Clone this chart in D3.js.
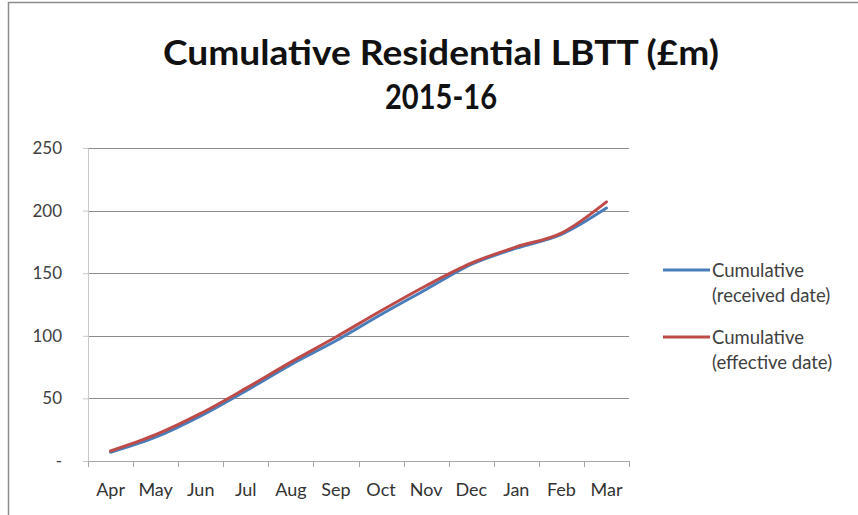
<!DOCTYPE html>
<html>
<head>
<meta charset="utf-8">
<script src="https://cdn.jsdelivr.net/npm/d3@7"></script>
<style>
  body { margin: 0; background: #fff; }
  text { font-family: Lato, "Open Sans", "Liberation Sans", sans-serif; }
</style>
</head>
<body>
<script>
var months = ["Apr", "May", "Jun", "Jul", "Aug", "Sep", "Oct", "Nov", "Dec", "Jan", "Feb", "Mar"];
var receivedDate = [7, 19, 36, 56, 77, 96, 117, 137, 157, 170, 181, 202];
var effectiveDate = [8, 21, 38, 58, 79, 99, 120, 140, 158, 171, 182, 207];
var yTicks = [0, 50, 100, 150, 200, 250];
var seriesNames = [["Cumulative", "(received date)"], ["Cumulative", "(effective date)"]];
var colors = ["#4a7ebb", "#be4b48"];

var margin = {top: 148, right: 229, bottom: 54, left: 88};
var width = 858 - margin.left - margin.right;
var height = 515 - margin.top - margin.bottom;

var root = d3.select("body").append("svg")
    .attr("width", 858)
    .attr("height", 515);

// outer frame
root.append("rect")
    .attr("x", 8.5).attr("y", 2.5)
    .attr("width", 1000).attr("height", 1000)
    .attr("fill", "none")
    .attr("stroke", "#8c8c8c")
    .attr("stroke-width", 1.5);

root.append("text")
    .attr("x", 441).attr("y", 65)
    .attr("text-anchor", "middle")
    .attr("font-size", 35).attr("font-weight", "bold")
    .attr("fill", "#111")
    .attr("textLength", 556).attr("lengthAdjust", "spacingAndGlyphs")
    .text("Cumulative Residential LBTT (£m)");
root.append("text")
    .attr("x", 441).attr("y", 109)
    .attr("text-anchor", "middle")
    .attr("font-size", 35).attr("font-weight", "bold")
    .attr("fill", "#111")
    .attr("textLength", 112).attr("lengthAdjust", "spacingAndGlyphs")
    .text("2015-16");

var svg = root.append("g")
    .attr("transform", "translate(" + margin.left + "," + margin.top + ")");

var x = d3.scaleBand().domain(months).range([0, width]);
var y = d3.scaleLinear().domain([0, 250]).range([height, 0]);

// gridlines
svg.append("g").selectAll("line")
  .data(yTicks.slice(1))
  .enter().append("line")
    .attr("x1", 0).attr("x2", width)
    .attr("y1", function(d) { return Math.round(y(d)) + 0.5; })
    .attr("y2", function(d) { return Math.round(y(d)) + 0.5; })
    .attr("stroke", "#8c8c8c");

var yAxis = svg.append("g")
    .call(d3.axisLeft(y).tickValues(yTicks).tickSize(5).tickPadding(21)
      .tickFormat(function(d) { return d === 0 ? "-" : d; }));
yAxis.select(".domain").attr("stroke", "#c8c8c8");
yAxis.selectAll(".tick line").attr("stroke", "#c8c8c8");
yAxis.selectAll("text").attr("font-size", 17).attr("fill", "#404040")
    .style("font-family", "Lato, 'Open Sans', sans-serif");

var xAxis = svg.append("g")
    .attr("transform", "translate(0," + height + ")")
    .call(d3.axisBottom(x).tickSize(0).tickPadding(22));
xAxis.select(".domain").attr("stroke", "#a6a6a6");
xAxis.selectAll("text").attr("font-size", 18).attr("fill", "#333")
    .style("font-family", "Lato, 'Open Sans', sans-serif");

// category boundary ticks
svg.append("g").selectAll("line")
  .data(months.concat(["end"]))
  .enter().append("line")
    .attr("x1", function(d, i) { return Math.round(i * x.step()) + 0.5; })
    .attr("x2", function(d, i) { return Math.round(i * x.step()) + 0.5; })
    .attr("y1", height).attr("y2", height + 6)
    .attr("stroke", "#a6a6a6");

var line = d3.line()
    .x(function(d, i) { return x(months[i]) + x.bandwidth() / 2; })
    .y(function(d) { return y(d); })
    .curve(d3.curveMonotoneX);

[receivedDate, effectiveDate].forEach(function(s, k) {
  svg.append("path")
      .datum(s)
      .attr("fill", "none")
      .attr("stroke", colors[k])
      .attr("stroke-width", 3)
      .attr("stroke-linejoin", "round")
      .attr("stroke-linecap", "round")
      .attr("d", line);
});

// legend
var legend = root.append("g");
seriesNames.forEach(function(n, k) {
  var ly = 270 + k * 67;
  legend.append("line")
      .attr("x1", 663).attr("x2", 710)
      .attr("y1", ly).attr("y2", ly)
      .attr("stroke", colors[k]).attr("stroke-width", 3);
  legend.append("text")
      .attr("x", 712).attr("y", ly + 7)
      .attr("font-size", 18.5).attr("fill", "#404040")
      .text(n[0]);
  legend.append("text")
      .attr("x", 712).attr("y", ly + 32)
      .attr("font-size", 18.5).attr("fill", "#404040")
      .text(n[1]);
});
</script>
</body>
</html>
